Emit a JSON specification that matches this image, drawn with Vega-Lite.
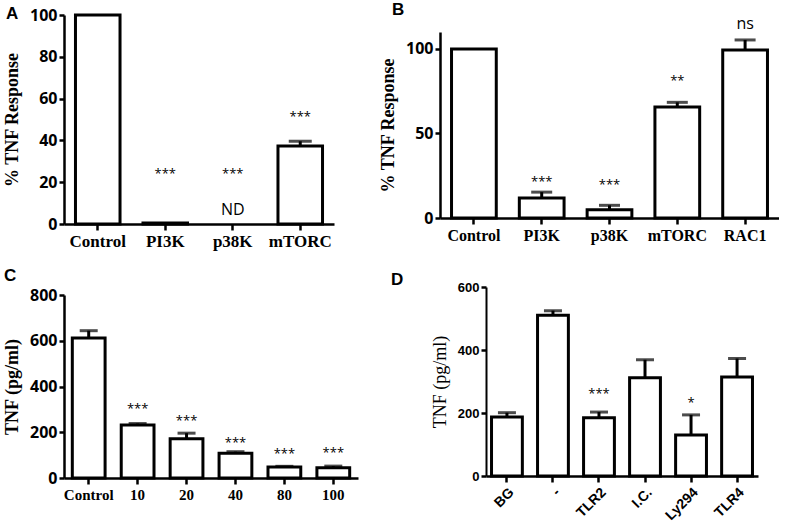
{
  "$schema": "https://vega.github.io/schema/vega-lite/v6.json",
  "padding": {"left": 3, "top": 1, "right": 0, "bottom": 0},
  "background": "white",
  "config": {
    "view": {"stroke": null},
    "axis": {"domainColor": "black", "domainWidth": 2.5, "tickColor": "black", "tickWidth": 2.5, "tickSize": 5, "labelColor": "black", "titleColor": "black", "grid": false, "labelPadding": 2},
    "title": {"color": "black", "font": "Liberation Sans", "fontWeight": "bold", "fontSize": 17, "anchor": "start", "frame": "group", "baseline": "alphabetic", "offset": 0}
  },
  "datasets": {
    "A": [
      {"cat": "Control", "v": 100, "err": null, "sig": null, "sigAt": null, "note": null, "noteAt": null},
      {"cat": "PI3K", "v": 0.5, "err": null, "sig": "***", "sigAt": 24, "note": null, "noteAt": null},
      {"cat": "p38K", "v": null, "err": null, "sig": "***", "sigAt": 24, "note": "ND", "noteAt": 6.5},
      {"cat": "mTORC", "v": 37.3, "err": 39.6, "sig": "***", "sigAt": 51, "note": null, "noteAt": null}
    ],
    "B": [
      {"cat": "Control", "v": 100, "err": null, "sig": null, "sigAt": null},
      {"cat": "PI3K", "v": 11.8, "err": 15.3, "sig": "***", "sigAt": 21.5},
      {"cat": "p38K", "v": 4.9, "err": 7.5, "sig": "***", "sigAt": 19.8},
      {"cat": "mTORC", "v": 65.7, "err": 68.4, "sig": "**", "sigAt": 81},
      {"cat": "RAC1", "v": 99.4, "err": 105.3, "sig": "ns", "sigAt": 114.5}
    ],
    "C": [
      {"cat": "Control", "v": 612, "err": 644, "sig": null, "sigAt": null},
      {"cat": "10", "v": 232, "err": 238, "sig": "***", "sigAt": 303},
      {"cat": "20", "v": 172, "err": 196, "sig": "***", "sigAt": 249},
      {"cat": "40", "v": 108, "err": 115, "sig": "***", "sigAt": 154},
      {"cat": "80", "v": 48, "err": 51, "sig": "***", "sigAt": 106},
      {"cat": "100", "v": 45, "err": 52, "sig": "***", "sigAt": 111}
    ],
    "D": [
      {"cat": "BG", "v": 187, "err": 201, "sig": null, "sigAt": null},
      {"cat": "-", "v": 510, "err": 525, "sig": null, "sigAt": null},
      {"cat": "TLR2", "v": 185, "err": 203, "sig": "***", "sigAt": 259},
      {"cat": "I.C.", "v": 312, "err": 369, "sig": null, "sigAt": null},
      {"cat": "Ly294", "v": 130, "err": 194, "sig": "*", "sigAt": 232},
      {"cat": "TLR4", "v": 314, "err": 373, "sig": null, "sigAt": null}
    ]
  },
  "bounds": "full",
  "spacing": 18,
  "vconcat": [
    {
      "bounds": "flush",
      "spacing": 106,
      "hconcat": [
        {
          "width": 270, "height": 209,
          "data": {"name": "A"},
          "title": {"text": "A", "dx": -58, "dy": 20},
          "encoding": {
            "x": {"field": "cat", "type": "nominal", "sort": null,
              "scale": {"domain": ["Control", "PI3K", "p38K", "mTORC"], "paddingInner": 0.34, "paddingOuter": 0.17},
              "axis": {"title": null, "labelAngle": 0, "labelFont": "Liberation Serif", "labelFontWeight": "bold", "labelFontSize": 17, "tickSize": 6, "labelPadding": 3}}
          },
          "layer": [
            {"mark": {"type": "bar", "fill": "white", "stroke": "black", "strokeWidth": 3},
             "encoding": {"y": {"field": "v", "type": "quantitative",
               "scale": {"domain": [0, 100], "nice": false},
               "axis": {"values": [0, 20, 40, 60, 80, 100], "title": "% TNF Response", "titleFont": "Liberation Serif", "titleFontWeight": "bold", "titleFontSize": 18, "titlePadding": 8, "labelFont": "Open Sans", "labelFontWeight": "bold", "labelFontSize": 16}}}},
            {"transform": [{"filter": "datum.err != null"}],
             "mark": {"type": "rule", "color": "black", "strokeWidth": 3},
             "encoding": {"y": {"field": "v", "type": "quantitative"}, "y2": {"field": "err"}}},
            {"transform": [{"filter": "datum.err != null"}],
             "mark": {"type": "tick", "color": "black", "size": 23, "thickness": 3},
             "encoding": {"y": {"field": "err", "type": "quantitative"}}},
            {"transform": [{"filter": "datum.sig != null"}],
             "mark": {"type": "text", "font": "Open Sans", "fontSize": 13, "color": "black", "baseline": "middle"},
             "encoding": {"y": {"field": "sigAt", "type": "quantitative"}, "text": {"field": "sig"}}},
            {"transform": [{"filter": "datum.note != null"}],
             "mark": {"type": "text", "font": "Open Sans", "fontSize": 16, "color": "black", "baseline": "middle"},
             "encoding": {"y": {"field": "noteAt", "type": "quantitative"}, "text": {"field": "note"}}}
          ]
        },
        {
          "width": 339, "height": 203,
          "data": {"name": "B"},
          "title": {"text": "B", "dx": -48, "dy": 8},
          "encoding": {
            "x": {"field": "cat", "type": "nominal", "sort": null,
              "scale": {"domain": ["Control", "PI3K", "p38K", "mTORC", "RAC1"], "paddingInner": 0.34, "paddingOuter": 0.17},
              "axis": {"title": null, "labelAngle": 0, "labelFont": "Liberation Serif", "labelFontWeight": "bold", "labelFontSize": 16, "tickSize": 6, "labelPadding": 3}}
          },
          "layer": [
            {"mark": {"type": "bar", "fill": "white", "stroke": "black", "strokeWidth": 3},
             "encoding": {"y": {"field": "v", "type": "quantitative",
               "scale": {"domain": [0, 110], "nice": false, "range": [203, 17]},
               "axis": {"values": [0, 50, 100], "title": "% TNF Response", "titleFont": "Liberation Serif", "titleFontWeight": "bold", "titleFontSize": 18, "titlePadding": 8, "labelFont": "Open Sans", "labelFontWeight": "bold", "labelFontSize": 16}}}},
            {"transform": [{"filter": "datum.err != null"}],
             "mark": {"type": "rule", "color": "black", "strokeWidth": 3},
             "encoding": {"y": {"field": "v", "type": "quantitative"}, "y2": {"field": "err"}}},
            {"transform": [{"filter": "datum.err != null"}],
             "mark": {"type": "tick", "color": "black", "size": 21, "thickness": 3},
             "encoding": {"y": {"field": "err", "type": "quantitative"}}},
            {"transform": [{"filter": "datum.sig != null && datum.sig != 'ns'"}],
             "mark": {"type": "text", "font": "Open Sans", "fontSize": 13, "color": "black", "baseline": "middle"},
             "encoding": {"y": {"field": "sigAt", "type": "quantitative"}, "text": {"field": "sig"}}},
            {"transform": [{"filter": "datum.sig == 'ns'"}],
             "mark": {"type": "text", "font": "Open Sans", "fontSize": 16, "color": "black", "baseline": "middle"},
             "encoding": {"y": {"field": "sigAt", "type": "quantitative"}, "text": {"field": "sig"}}}
          ]
        }
      ]
    },
    {
      "bounds": "flush",
      "spacing": 128,
      "hconcat": [
        {
          "width": 294, "height": 191,
          "data": {"name": "C"},
          "title": {"text": "C", "dx": -60, "dy": 2},
          "encoding": {
            "x": {"field": "cat", "type": "nominal", "sort": null,
              "scale": {"domain": ["Control", "10", "20", "40", "80", "100"], "paddingInner": 0.33, "paddingOuter": 0.17},
              "axis": {"title": null, "labelAngle": 0, "labelFont": "Liberation Serif", "labelFontWeight": "bold", "labelFontSize": 15, "tickSize": 6, "labelPadding": 3}}
          },
          "layer": [
            {"mark": {"type": "bar", "fill": "white", "stroke": "black", "strokeWidth": 3},
             "encoding": {"y": {"field": "v", "type": "quantitative",
               "scale": {"domain": [0, 800], "nice": false, "range": [191, 8]},
               "axis": {"values": [0, 200, 400, 600, 800], "title": "TNF (pg/ml)", "titleFont": "Liberation Serif", "titleFontWeight": "bold", "titleFontSize": 18, "titlePadding": 8, "labelFont": "Open Sans", "labelFontWeight": "bold", "labelFontSize": 16}}}},
            {"transform": [{"filter": "datum.err != null"}],
             "mark": {"type": "rule", "color": "black", "strokeWidth": 3},
             "encoding": {"y": {"field": "v", "type": "quantitative"}, "y2": {"field": "err"}}},
            {"transform": [{"filter": "datum.err != null"}],
             "mark": {"type": "tick", "color": "black", "size": 18, "thickness": 3},
             "encoding": {"y": {"field": "err", "type": "quantitative"}}},
            {"transform": [{"filter": "datum.sig != null"}],
             "mark": {"type": "text", "font": "Open Sans", "fontSize": 13, "color": "black", "baseline": "middle"},
             "encoding": {"y": {"field": "sigAt", "type": "quantitative"}, "text": {"field": "sig"}}}
          ]
        },
        {
          "width": 272, "height": 189,
          "data": {"name": "D"},
          "title": {"text": "D", "dx": -95, "dy": 12},
          "encoding": {
            "x": {"field": "cat", "type": "nominal", "sort": null,
              "scale": {"domain": ["BG", "-", "TLR2", "I.C.", "Ly294", "TLR4"], "paddingInner": 0.33, "paddingOuter": 0.12},
              "axis": {"title": null, "labelAngle": -45, "labelFont": "Liberation Sans", "labelFontWeight": "bold", "labelFontSize": 14, "tickSize": 6, "labelPadding": 3}}
          },
          "layer": [
            {"mark": {"type": "bar", "fill": "white", "stroke": "black", "strokeWidth": 3},
             "encoding": {"y": {"field": "v", "type": "quantitative",
               "scale": {"domain": [0, 600], "nice": false},
               "axis": {"values": [0, 200, 400, 600], "title": "TNF (pg/ml)", "titleFont": "Liberation Serif", "titleFontWeight": "normal", "titleFontSize": 18, "titlePadding": 8, "labelFont": "Liberation Sans", "labelFontWeight": "bold", "labelFontSize": 13, "domainWidth": 2}}}},
            {"transform": [{"filter": "datum.err != null"}],
             "mark": {"type": "rule", "color": "black", "strokeWidth": 3},
             "encoding": {"y": {"field": "v", "type": "quantitative"}, "y2": {"field": "err"}}},
            {"transform": [{"filter": "datum.err != null"}],
             "mark": {"type": "tick", "color": "black", "size": 18, "thickness": 3},
             "encoding": {"y": {"field": "err", "type": "quantitative"}}},
            {"transform": [{"filter": "datum.sig != null"}],
             "mark": {"type": "text", "font": "Open Sans", "fontSize": 13, "color": "black", "baseline": "middle"},
             "encoding": {"y": {"field": "sigAt", "type": "quantitative"}, "text": {"field": "sig"}}}
          ]
        }
      ]
    }
  ]
}
